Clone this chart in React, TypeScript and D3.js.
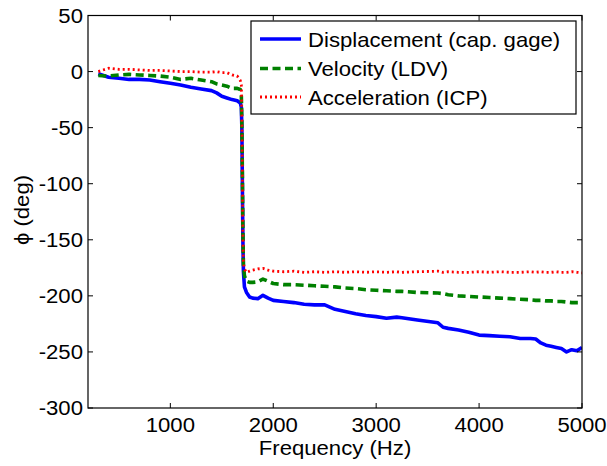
import React from "react";
import * as d3 from "d3";

const freq = [300, 400, 500, 600, 700, 800, 900, 1000, 1100, 1200, 1300, 1400, 1450, 1500, 1550, 1600, 1650, 1680, 1690, 1695, 1700, 1705, 1710, 1720, 1740, 1770, 1800, 1850, 1900, 1950, 2000, 2100, 2200, 2300, 2400, 2500, 2600, 2700, 2800, 2900, 3000, 3100, 3200, 3250, 3400, 3600, 3650, 3700, 3800, 3900, 4000, 4100, 4200, 4300, 4400, 4500, 4550, 4600, 4650, 4700, 4750, 4800, 4850, 4900, 4950, 5000];

const displacement = [-2, -5, -6, -7, -7, -7.5, -9, -10.5, -12, -14, -15.5, -17, -19, -22, -23.5, -25, -26, -28, -32, -50, -100, -150, -178, -192, -197, -201, -202, -202.5, -199.5, -202, -204, -205, -206, -207.5, -208, -208, -212, -214, -216, -217.5, -218.5, -220, -219, -219.5, -221.5, -224, -228, -229, -230.5, -232.5, -235, -235.5, -236, -236.5, -238, -238, -238.5, -242, -244, -245, -246, -247, -250, -248, -249, -246];

const velocity = [-3.5, -4, -3, -2.5, -3, -3.5, -4, -5, -7, -6, -7.5, -9, -11, -12, -13, -15, -15, -16, -22, -45, -90, -140, -172, -182, -187, -188, -188, -187.5, -185, -187, -189, -190, -190, -190.5, -191, -191.5, -192, -193, -193.5, -194.5, -195, -195.5, -196, -196, -197, -197.5, -198, -199, -200, -200.5, -201, -201.5, -202, -202.5, -203, -203.5, -204, -204, -204.5, -204.5, -205, -205, -205.5, -206, -206, -206];

const acceleration = [0, 3, 2, 2, 1.5, 1, 1, 0.5, 0, 0, -0.5, -0.5, 0, -1, -1, -3, -4, -8, -12, -40, -90, -145, -170, -176, -179, -178, -177, -176, -175.5, -177, -178, -178.5, -178, -179, -178.5, -179, -178.5, -179, -178.5, -179, -178.5, -179, -178.5, -179, -178.5, -178, -179, -178.5, -179, -179, -178.5, -179, -178.5, -179, -179, -178.5, -179, -178.5, -179, -179, -178.5, -179, -179, -178.5, -179, -179.5];

const xTicks = [1000, 2000, 3000, 4000, 5000];
const yTicks = [50, 0, -50, -100, -150, -200, -250, -300];
const seriesNames = ["Displacement (cap. gage)", "Velocity (LDV)", "Acceleration (ICP)"];

const W = 607, H = 466;
const L = 88, R = 582, T = 15.5, B = 408;
const FONT = "Arial, 'Liberation Sans', sans-serif";
const FS = 20.5;
const SX = 1.08;

function T2({ x, y, anchor, children, rotate }: { x: number; y: number; anchor?: string; children: React.ReactNode; rotate?: boolean }) {
  const tr = rotate ? `translate(${x},${y}) rotate(-90) scale(${SX},1)` : `translate(${x},${y}) scale(${SX},1)`;
  return (
    <text transform={tr} textAnchor={anchor || "start"} fontSize={FS} fill="#000">{children}</text>
  );
}

export default function App() {
  const x = d3.scaleLinear().domain([200, 5000]).range([L, R]);
  const y = d3.scaleLinear().domain([-300, 50]).range([B, T]);
  const line = d3.line<number>().x((_, i) => x(freq[i])).y((v) => y(v));

  const series = [
    { name: seriesNames[0], values: displacement, color: "#0000ff", width: 3.6, dash: undefined as string | undefined },
    { name: seriesNames[1], values: velocity, color: "#008000", width: 3.6, dash: "8 4.5" },
    { name: seriesNames[2], values: acceleration, color: "#ff0000", width: 2.8, dash: "2 3" },
  ];

  const legendY = [39, 68.5, 97];

  return (
    <svg width={W} height={H} style={{ position: "absolute", left: 0, top: 0, background: "#fff" }} fontFamily={FONT}>
      <rect x={0} y={0} width={W} height={H} fill="#fff" />
      <defs>
        <clipPath id="plotclip">
          <rect x={L} y={T} width={R - L} height={B - T} />
        </clipPath>
      </defs>
      <g clipPath="url(#plotclip)">
        {series.map((s) => (
          <path key={s.name} d={line(s.values) || ""} fill="none" stroke={s.color} strokeWidth={s.width} strokeDasharray={s.dash} strokeLinejoin="round" />
        ))}
      </g>
      <rect x={L} y={T} width={R - L} height={B - T} fill="none" stroke="#000" strokeWidth={1.2} />
      {xTicks.map((t) => (
        <g key={"x" + t}>
          <line x1={x(t)} x2={x(t)} y1={B} y2={B - 5} stroke="#000" strokeWidth={1} />
          <line x1={x(t)} x2={x(t)} y1={T} y2={T + 5} stroke="#000" strokeWidth={1} />
          <T2 x={x(t)} y={432} anchor="middle">{t}</T2>
        </g>
      ))}
      {yTicks.map((t) => (
        <g key={"y" + t}>
          <line x1={L} x2={L + 5} y1={y(t)} y2={y(t)} stroke="#000" strokeWidth={1} />
          <line x1={R} x2={R - 5} y1={y(t)} y2={y(t)} stroke="#000" strokeWidth={1} />
          <T2 x={L - 5} y={y(t) + 7.3} anchor="end">{t}</T2>
        </g>
      ))}
      <T2 x={(L + R) / 2} y={455} anchor="middle">Frequency (Hz)</T2>
      <T2 x={29} y={210} anchor="middle" rotate>ϕ (deg)</T2>
      <rect x={251} y={21} width={325} height={93} fill="#fff" stroke="#000" strokeWidth={1.2} />
      {series.map((s, i) => (
        <g key={"lg" + i}>
          <line x1={260} x2={301} y1={legendY[i]} y2={legendY[i]} stroke={s.color} strokeWidth={s.width} strokeDasharray={s.dash} />
          <T2 x={308} y={legendY[i] + 7.5}>{s.name}</T2>
        </g>
      ))}
    </svg>
  );
}
